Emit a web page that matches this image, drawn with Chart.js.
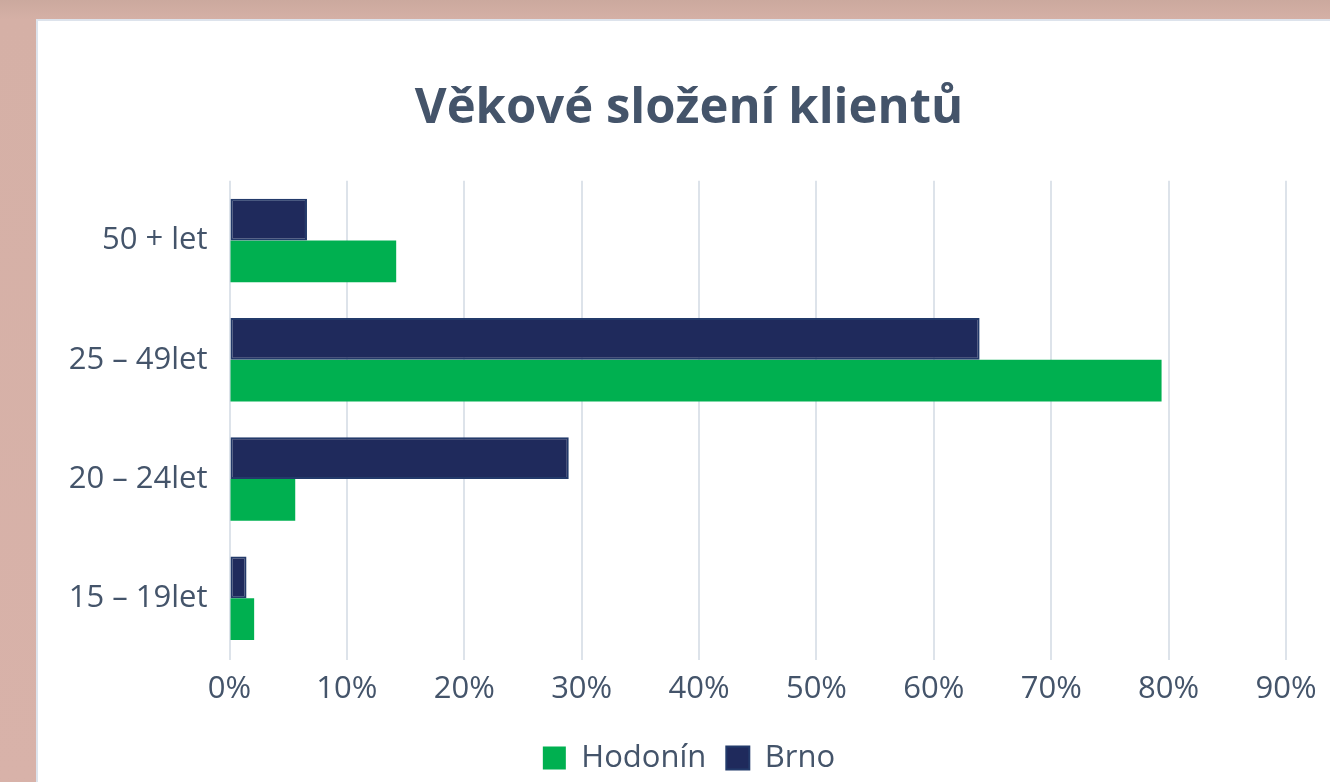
<!DOCTYPE html>
<html>
<head>
<meta charset="utf-8">
<title>Věkové složení klientů</title>
<script src="https://cdn.jsdelivr.net/npm/chart.js@4.4.1/dist/chart.umd.min.js"></script>
<style>
    html, body {
        margin: 0;
        padding: 0;
        width: 1330px;
        height: 782px;
        overflow: hidden;
        background: linear-gradient(180deg, #cba99e 0px, #d5b0a6 19px, #d8b2a9 100%);
    }
    #card {
        position: absolute;
        left: 36px;
        top: 19px;
        width: 1310px;
        height: 800px;
        background: #fff;
        border-left: 2px solid #dde3ec;
        border-top: 2px solid #dde3ec;
    }
    #chart {
        position: absolute;
        left: 0;
        top: 0;
    }
</style>
</head>
<body>
<div id="card">
    <canvas id="chart" width="1302" height="790"></canvas>
</div>
<script>
    'use strict';

    // data (percent)
    const categories = ['50 + let', '25 – 49let', '20 – 24let', '15 – 19let'];
    const brnoValues = [6.6, 63.9, 28.9, 1.45];
    const hodoninValues = [14.2, 79.4, 5.6, 2.1];
    const xTicks = [0, 10, 20, 30, 40, 50, 60, 70, 80, 90];

    const textColor = '#44546a';
    const fontFamily = '"Open Sans", "Noto Sans", sans-serif';

    const ctx = document.getElementById('chart');

    new Chart(ctx, {
        type: 'bar',
        data: {
            labels: categories,
            datasets: [
                {
                    label: 'Brno',
                    data: brnoValues,
                    backgroundColor: '#1f2a5c',
                    borderColor: '#233a6a',
                    borderWidth: 2,
                    borderSkipped: false
                },
                {
                    label: 'Hodonín',
                    data: hodoninValues,
                    backgroundColor: '#00b050',
                    borderWidth: 0
                }
            ]
        },
        options: {
            indexAxis: 'y',
            responsive: false,
            animation: false,
            categoryPercentage: 0.7,
            barPercentage: 1.0,
            layout: {
                padding: { left: 0, right: 0, top: 0, bottom: 27.5 }
            },
            plugins: {
                title: {
                    display: true,
                    text: 'Věkové složení klientů',
                    color: textColor,
                    font: { family: fontFamily, size: 49, weight: '700' },
                    padding: { top: 59, bottom: 42 }
                },
                legend: {
                    position: 'bottom',
                    reverse: true,
                    labels: {
                        color: textColor,
                        font: { family: fontFamily, size: 31 },
                        boxWidth: 23,
                        boxHeight: 23,
                        padding: 20
                    }
                },
                tooltip: { enabled: false }
            },
            scales: {
                x: {
                    min: 0,
                    max: 90,
                    afterBuildTicks: function(scale) {
                        scale.ticks = xTicks.map(v => ({ value: v }));
                    },
                    afterFit: function(scale) {
                        scale.height = 64.5;
                    },
                    grid: {
                        color: '#dde3ea',
                        lineWidth: 2,
                        tickLength: 2
                    },
                    border: { display: false },
                    ticks: {
                        color: textColor,
                        font: { family: fontFamily, size: 31 },
                        padding: 11,
                        callback: function(value) {
                            return value + '%';
                        }
                    }
                },
                y: {
                    afterFit: function(scale) {
                        scale.width = 191.5;
                    },
                    grid: { display: false },
                    border: { display: false },
                    ticks: {
                        color: textColor,
                        font: { family: fontFamily, size: 31 },
                        padding: 14
                    }
                },
                // empty right-hand axis, only reserves the margin right of the plot
                yRight: {
                    type: 'category',
                    position: 'right',
                    afterFit: function(scale) {
                        scale.width = 54;
                    },
                    grid: { display: false },
                    border: { display: false },
                    ticks: { display: false }
                }
            }
        }
    });
</script>
</body>
</html>
